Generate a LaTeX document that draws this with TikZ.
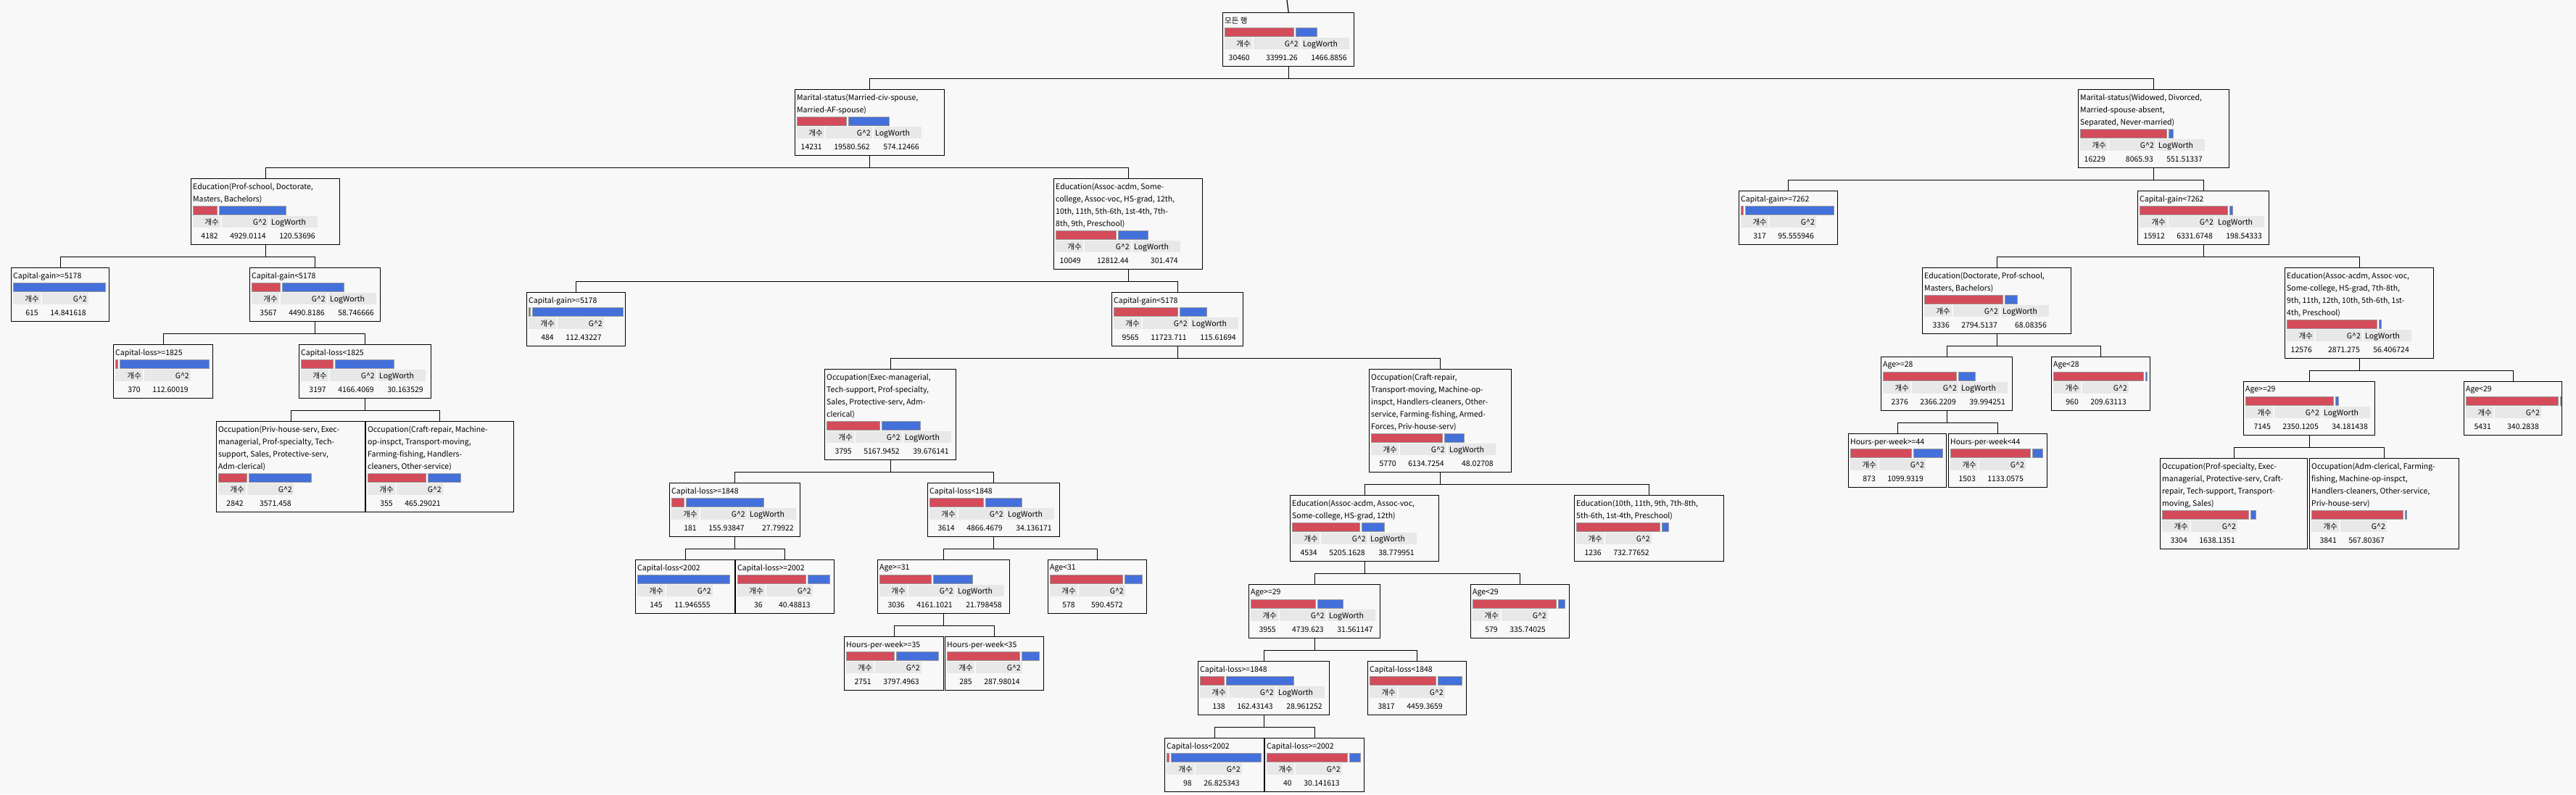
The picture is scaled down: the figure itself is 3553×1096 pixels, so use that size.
\documentclass[tikz,border=0pt]{standalone}
\usepackage{fontspec}
\setmainfont{Noto Sans CJK KR}
\usepackage{xcolor}
\usetikzlibrary{positioning}
\definecolor{barred}{HTML}{D44B5A}
\definecolor{barblue}{HTML}{4470DC}
\definecolor{barline}{HTML}{9A9A9A}
\definecolor{hdrgrey}{HTML}{E8E8E8}
\definecolor{bgcol}{HTML}{F8F8F8}

\tikzset{
  tbox/.style={draw, line width=1.4pt, fill=bgcol, anchor=north west, inner sep=0pt},
  ttitle/.style={anchor=north west, inner sep=0pt, align=left, font=\fontsize{10.5}{17}\selectfont},
  tval/.style={inner sep=0pt, font=\fontsize{10.5}{12}\selectfont},
  edge/.style={line width=1.2pt},
}

% box with its split title
\newcommand\tnode[6]{%
  \pgfmathsetmacro\toff{17*(#5-1)}
  \node[tbox, minimum width=#4, minimum height=74+\toff] (#1) at (#2,#3) {};
  \node[ttitle] at ([shift={(3,7)}]#1.north west) {#6};
  \global\let\curoff\toff
  \xdef\curnode{#1}%
}
% bars and the count table of the last box
\newcommand\tstats[5]{%
  \begin{scope}[shift={(\curnode.north west)}, yshift={-\curoff}]
    \pgfmathsetmacro\bx{(#1>0)*(#1+3)+3}
    \ifdim#1pt>0pt \filldraw[fill=barred, draw=barline, line width=1pt] (3,21) rectangle ++(#1,12); \fi
    \filldraw[fill=barblue, draw=barline, line width=1pt] (\bx,21) rectangle ++(#2,12);
    \fill[hdrgrey] (3,35) rectangle ++(38,16);
    \fill[hdrgrey] (43,35) rectangle ++(64,16);
    \node[tval, anchor=base east] at (39,47) {개수};
    \node[tval, anchor=base east] at (105,47) {G\char`\^2};
    \node[tval, anchor=base east] at (38,66) {#3};
    \node[tval, anchor=base east] at (104,66) {#4};
    \if\relax\detokenize{#5}\relax\else
      \fill[hdrgrey] (109,35) rectangle ++(66,16);
      \node[tval, anchor=base west] at (111,47) {LogWorth};
      \node[tval, anchor=base east] at (172,66) {#5};
    \fi
  \end{scope}%
}

\begin{document}
\begin{tikzpicture}[x=1pt, y=-1pt]
  \fill[bgcol] (0,0) rectangle (3553,1096);
  \useasboundingbox (0,0) rectangle (3553,1096);

  % root and first split
  \tnode{root}{1686}{17}{181}{1}{모든 행}\tstats{95}{29}{30460}{33991.26}{1466.8856}
  \tnode{marL}{1096}{123}{206}{2}{Marital-status(Married-civ-spouse,\\Married-AF-spouse)}\tstats{68}{56}{14231}{19580.562}{574.12466}
  \tnode{marR}{2866}{123}{208}{3}{Marital-status(Widowed, Divorced,\\Married-spouse-absent,\\Separated, Never-married)}\tstats{119}{6}{16229}{8065.93}{551.51337}

  % married branch
  \tnode{eduA}{263}{246}{205}{2}{Education(Prof-school, Doctorate,\\Masters, Bachelors)}\tstats{33}{92}{4182}{4929.0114}{120.53696}
  \tnode{eduB}{1453}{246}{205}{4}{Education(Assoc-acdm, Some-\\college, Assoc-voc, HS-grad, 12th,\\10th, 11th, 5th-6th, 1st-4th, 7th-\\8th, 9th, Preschool)}\tstats{83}{41}{10049}{12812.44}{301.474}
  \tnode{cgA1}{15}{369}{135}{1}{Capital-gain>=5178}\tstats{0}{127}{615}{14.841618}{}
  \tnode{cgA2}{344}{369}{180}{1}{Capital-gain<5178}\tstats{39}{85}{3567}{4490.8186}{58.746666}
  \tnode{clA1}{156}{475}{137}{1}{Capital-loss>=1825}\tstats{3}{123}{370}{112.60019}{}
  \tnode{clA2}{412}{475}{182}{1}{Capital-loss<1825}\tstats{44}{81}{3197}{4166.4069}{30.163529}
  \tnode{occA1}{298}{581}{205}{4}{Occupation(Priv-house-serv, Exec-\\managerial, Prof-specialty, Tech-\\support, Sales, Protective-serv,\\Adm-clerical)}\tstats{39}{86}{2842}{3571.458}{}
  \tnode{occA2}{504}{581}{204}{4}{Occupation(Craft-repair, Machine-\\op-inspct, Transport-moving,\\Farming-fishing, Handlers-\\cleaners, Other-service)}\tstats{80}{45}{355}{465.29021}{}

  \tnode{cgB1}{726}{403}{136}{1}{Capital-gain>=5178}\tstats{2}{125}{484}{112.43227}{}
  \tnode{cgB2}{1533}{403}{181}{1}{Capital-gain<5178}\tstats{88}{37}{9565}{11723.711}{115.61694}
  \tnode{occB1}{1137}{509}{181}{4}{Occupation(Exec-managerial,\\Tech-support, Prof-specialty,\\Sales, Protective-serv, Adm-\\clerical)}\tstats{73}{53}{3795}{5167.9452}{39.676141}
  \tnode{occB2}{1888}{509}{196}{5}{Occupation(Craft-repair,\\Transport-moving, Machine-op-\\inspct, Handlers-cleaners, Other-\\service, Farming-fishing, Armed-\\Forces, Priv-house-serv)}\tstats{98}{27}{5770}{6134.7254}{48.02708}
  \tnode{clB1}{923}{666}{180}{1}{Capital-loss>=1848}\tstats{17}{107}{181}{155.93847}{27.79922}
  \tnode{clB2}{1279}{666}{182}{1}{Capital-loss<1848}\tstats{74}{50}{3614}{4866.4679}{34.136171}
  \tnode{clB11}{876}{772}{137}{1}{Capital-loss<2002}\tstats{0}{127}{145}{11.946555}{}
  \tnode{clB12}{1014}{772}{136}{1}{Capital-loss>=2002}\tstats{94}{30}{36}{40.48813}{}
  \tnode{ageB1}{1210}{772}{182}{1}{Age>=31}\tstats{71}{54}{3036}{4161.1021}{21.798458}
  \tnode{ageB2}{1445}{772}{136}{1}{Age<31}\tstats{100}{24}{578}{590.4572}{}
  \tnode{hpwB1}{1164}{878}{137}{1}{Hours-per-week>=35}\tstats{66}{58}{2751}{3797.4963}{}
  \tnode{hpwB2}{1303}{878}{136}{1}{Hours-per-week<35}\tstats{100}{24}{285}{287.98014}{}

  \tnode{eduC1}{1779}{683}{205}{2}{Education(Assoc-acdm, Assoc-voc,\\Some-college, HS-grad, 12th)}\tstats{93}{31}{4534}{5205.1628}{38.779951}
  \tnode{eduC2}{2171}{683}{206}{2}{Education(10th, 11th, 9th, 7th-8th,\\5th-6th, 1st-4th, Preschool)}\tstats{115}{9}{1236}{732.77652}{}
  \tnode{ageC1}{1722}{806}{181}{1}{Age>=29}\tstats{89}{35}{3955}{4739.623}{31.561147}
  \tnode{ageC2}{2028}{806}{136}{1}{Age<29}\tstats{115}{9}{579}{335.74025}{}
  \tnode{clC1}{1652}{912}{181}{1}{Capital-loss>=1848}\tstats{33}{93}{138}{162.43143}{28.961252}
  \tnode{clC2}{1886}{912}{136}{1}{Capital-loss<1848}\tstats{91}{33}{3817}{4459.3659}{}
  \tnode{clC11}{1606}{1018}{137}{1}{Capital-loss<2002}\tstats{3}{124}{98}{26.825343}{}
  \tnode{clC12}{1744}{1018}{137}{1}{Capital-loss>=2002}\tstats{111}{15}{40}{30.141613}{}

  % single branch
  \tnode{cgD1}{2398}{263}{136}{1}{Capital-gain>=7262}\tstats{3}{122}{317}{95.555946}{}
  \tnode{cgD2}{2948}{263}{181}{1}{Capital-gain<7262}\tstats{121}{4}{15912}{6331.6748}{198.54333}
  \tnode{eduD1}{2651}{369}{205}{2}{Education(Doctorate, Prof-school,\\Masters, Bachelors)}\tstats{108}{17}{3336}{2794.5137}{68.08356}
  \tnode{eduD2}{3151}{369}{205}{4}{Education(Assoc-acdm, Assoc-voc,\\Some-college, HS-grad, 7th-8th,\\9th, 11th, 12th, 10th, 5th-6th, 1st-\\4th, Preschool)}\tstats{124}{3}{12576}{2871.275}{56.406724}
  \tnode{ageD1}{2594}{492}{181}{1}{Age>=28}\tstats{101}{23}{2376}{2366.2209}{39.994251}
  \tnode{ageD2}{2829}{492}{136}{1}{Age<28}\tstats{124}{2}{960}{209.63113}{}
  \tnode{hpwD1}{2549}{598}{135}{1}{Hours-per-week>=44}\tstats{84}{40}{873}{1099.9319}{}
  \tnode{hpwD2}{2687}{598}{136}{1}{Hours-per-week<44}\tstats{110}{14}{1503}{1133.0575}{}
  \tnode{ageE1}{3094}{526}{181}{1}{Age>=29}\tstats{121}{4}{7145}{2350.1205}{34.181438}
  \tnode{ageE2}{3398}{526}{135}{1}{Age<29}\tstats{127}{1}{5431}{340.2838}{}
  \tnode{occE1}{2979}{632}{203}{4}{Occupation(Prof-specialty, Exec-\\managerial, Protective-serv, Craft-\\repair, Tech-support, Transport-\\moving, Sales)}\tstats{119}{7}{3304}{1638.1351}{}
  \tnode{occE2}{3185}{632}{206}{4}{Occupation(Adm-clerical, Farming-\\fishing, Machine-op-inspct,\\Handlers-cleaners, Other-service,\\Priv-house-serv)}\tstats{126}{2}{3841}{567.80367}{}

  % connectors
  \coordinate (top) at (1775,0);
  \draw[edge] (root.north) -- (top);
  \foreach \p/\c in {root/marL, root/marR, marL/eduA, marL/eduB, eduA/cgA1, eduA/cgA2,
      cgA2/clA1, cgA2/clA2, clA2/occA1, clA2/occA2, eduB/cgB1, eduB/cgB2, cgB2/occB1, cgB2/occB2,
      occB1/clB1, occB1/clB2, clB1/clB11, clB1/clB12, clB2/ageB1, clB2/ageB2, ageB1/hpwB1, ageB1/hpwB2,
      occB2/eduC1, occB2/eduC2, eduC1/ageC1, eduC1/ageC2, ageC1/clC1, ageC1/clC2, clC1/clC11, clC1/clC12,
      marR/cgD1, marR/cgD2, cgD2/eduD1, cgD2/eduD2, eduD1/ageD1, eduD1/ageD2, ageD1/hpwD1, ageD1/hpwD2,
      eduD2/ageE1, eduD2/ageE2, ageE1/occE1, ageE1/occE2}
    \draw[edge] (\p.south) -- ++(0,16) -| (\c.north);
\end{tikzpicture}
\end{document}
